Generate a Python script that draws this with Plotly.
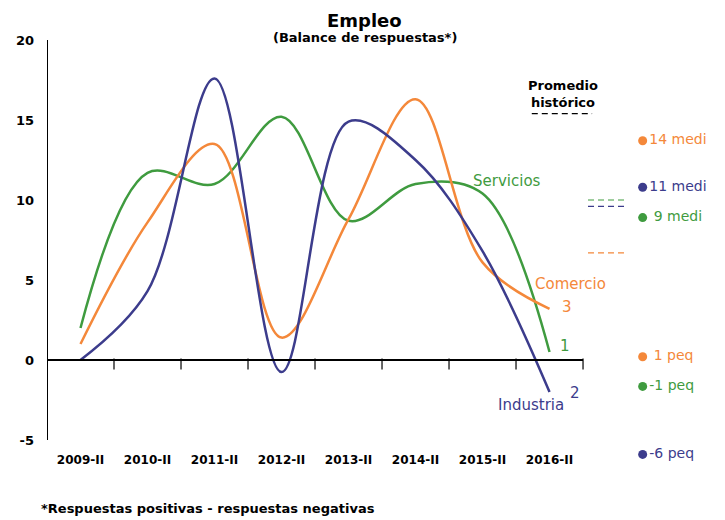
import plotly.graph_objects as go
import numpy as np

# Datos
periodos = ['2009-II', '2010-II', '2011-II', '2012-II', '2013-II', '2014-II', '2015-II', '2016-II']
industria = [0, 4.3, 17.6, -0.75, 14.9, 12.5, 6.8, -2.0]
comercio = [1, 8.6, 13.5, 1.4, 8.8, 16.3, 6.1, 3.2]
servicios = [2, 11.7, 11.0, 15.2, 8.7, 11.0, 10.4, 0.5]

# Promedio histórico (líneas punteadas a la derecha)
prom_series = ['Servicios', 'Industria', 'Comercio']
prom_valores = [10.0, 9.6, 6.7]

# Puntos de la derecha: medianas y pequeñas empresas
puntos_texto = ['14 medi', '11 medi', ' 9 medi', ' 1 peq', '-1 peq', '-6 peq']
puntos_valor = [13.7, 10.8, 8.9, 0.2, -1.65, -5.9]
puntos_serie = ['Comercio', 'Industria', 'Servicios', 'Comercio', 'Servicios', 'Industria']

colores = {'Industria': '#3c3c8c', 'Comercio': '#f4883a', 'Servicios': '#3f9b3f'}
fuente = 'DejaVu Sans'

x = np.arange(len(periodos))

fig = go.Figure()

for nombre, valores in [('Servicios', servicios), ('Comercio', comercio), ('Industria', industria)]:
    fig.add_trace(go.Scatter(
        x=x, y=valores, mode='lines', name=nombre,
        line=dict(color=colores[nombre], width=2.5, shape='spline', smoothing=1.0),
    ))

# marcas del eje x sobre la línea de cero
bordes = np.arange(len(periodos) + 1) - 0.5
fig.add_trace(go.Scatter(
    x=bordes[1:], y=[-0.25] * (len(bordes) - 1), mode='markers',
    marker=dict(symbol='line-ns', size=8, line=dict(color='black', width=1.2)),
    hoverinfo='skip', cliponaxis=False,
))

# promedios históricos en el eje secundario
for nombre, valor in zip(prom_series, prom_valores):
    fig.add_trace(go.Scatter(
        x=[0.035, 0.31], y=[valor, valor], xaxis='x2', yaxis='y', mode='lines',
        line=dict(color=colores[nombre], width=1.2, dash='6px,4px'),
        hoverinfo='skip', cliponaxis=False,
    ))

fig.add_trace(go.Scatter(
    x=[0.42] * len(puntos_valor), y=puntos_valor, xaxis='x2', yaxis='y',
    mode='markers+text', text=puntos_texto, textposition='middle right',
    marker=dict(size=9, color=[colores[s] for s in puntos_serie]),
    textfont=dict(family=fuente, size=14, color=[colores[s] for s in puntos_serie]),
    cliponaxis=False, hoverinfo='skip',
))

# ejes dibujados a mano
fig.add_shape(type='line', xref='x', yref='y', x0=-0.5, x1=-0.5, y0=-5, y1=20,
              line=dict(color='black', width=2))
fig.add_shape(type='line', xref='x', yref='y', x0=-0.5, x1=7.5, y0=0, y1=0,
              line=dict(color='black', width=2))
# muestra negra de "Promedio histórico"
fig.add_shape(type='line', xref='paper', yref='y', x0=0.715, x1=0.804, y0=15.4, y1=15.4,
              line=dict(color='black', width=1.2, dash='6px,4px'))


def py(p):
    # posición vertical en pantalla -> coordenada paper
    return (472 - p) / 464


fig.add_annotation(text='<b>Empleo</b>', xref='paper', yref='paper', x=0.469, y=1,
                   showarrow=False, xanchor='center', yanchor='top',
                   font=dict(family=fuente, size=18, color='black'))
anotaciones = [
    ('<b>(Balance de respuestas*)</b>', 0.469, 37, 13),
    ('<b>*Respuestas positivas - respuestas negativas</b>', 0.2375, 509, 13),
]
for t, ax, ay, s in anotaciones:
    fig.add_annotation(text=t, xref='paper', yref='paper', x=ax, y=py(ay),
                       showarrow=False, xanchor='center', yanchor='middle',
                       font=dict(family=fuente, size=s, color='black'))

etiquetas = [
    ('Servicios', 6.37, 11.2, colores['Servicios'], 15),
    ('Comercio', 7.31, 4.75, colores['Comercio'], 15),
    ('3', 7.26, 3.3, colores['Comercio'], 15),
    ('1', 7.23, 0.9, colores['Servicios'], 15),
    ('Industria', 6.72, -2.8, colores['Industria'], 15),
    ('2', 7.38, -2.06, colores['Industria'], 15),
    ('<b>Promedio<br>histórico</b>', 7.2, 16.6, 'black', 13),
]
for t, ax, ay, c, s in etiquetas:
    fig.add_annotation(text=t, x=ax, y=ay, xref='x', yref='y', showarrow=False,
                       font=dict(family=fuente, size=s, color=c))

# la página añade 8px de margen, la figura se reduce en la misma medida
fig.update_layout(
    width=717, height=512,
    margin=dict(l=39, r=0, t=0, b=48),
    plot_bgcolor='white', paper_bgcolor='white',
    showlegend=False,
    font=dict(family=fuente, color='black'),
    xaxis=dict(domain=[0, 0.7906], range=[-0.5, 7.5], tickvals=x, ticktext=['<b>%s</b>' % p for p in periodos],
               anchor='free', position=0.0485, automargin=False,
               showgrid=False, zeroline=False, showline=False, ticks='', tickfont=dict(size=12),
               ticklabelstandoff=2),
    xaxis2=dict(domain=[0.7906, 1], range=[0, 1], anchor='y', visible=False),
    yaxis=dict(range=[-7, 22], tickvals=[-5, 0, 5, 10, 15, 20], automargin=False,
               ticktext=['<b>%d</b>' % v for v in [-5, 0, 5, 10, 15, 20]],
               showgrid=False, zeroline=False,
               showline=False, ticks='', tickfont=dict(size=13), ticklabelstandoff=12),
)

fig.write_html('out.html')
